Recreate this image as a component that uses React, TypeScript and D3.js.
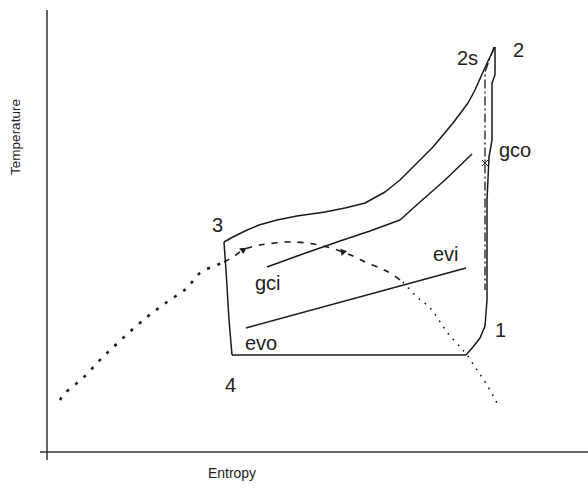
import React from "react";
import * as d3 from "d3";

type P = [number, number];

// entropy (s) and temperature (T) in arbitrary units measured from the origin
const cycleLeft: P[] = [[177, 210], [179, 182], [182, 132], [185, 97]];
const cycleBottom: P[] = [[185, 97], [419, 97]];
const cycleRight: P[] = [
  [419, 97], [426, 105], [433, 114], [438, 126], [440, 152], [440, 252],
  [442, 295], [445, 312], [445, 369], [448, 377], [448, 405],
];
const cycleTop: P[] = [
  [448, 405], [441, 391], [436, 380], [428, 362], [421, 349], [406, 329],
  [386, 305], [366, 285], [353, 272], [338, 260], [318, 249], [298, 244],
  [278, 240], [250, 236], [230, 232], [212, 227], [198, 221], [186, 215],
  [177, 210],
];
const isentropic2s: P[] = [[447, 405], [438, 380], [438, 162]];
const gasCoolerLine: P[] = [
  [220, 185], [253, 197], [293, 211], [323, 221], [353, 232], [373, 250],
  [398, 272], [425, 298],
];
const evaporatorLine: P[] = [[199, 124], [419, 184]];
const domeLeft: P[] = [
  [13, 52], [18, 59], [36, 74], [55, 94], [76, 114], [100, 135], [120, 150],
  [140, 164], [153, 179], [170, 187], [177, 190],
];
const domeTop: P[] = [
  [177, 190], [186, 195], [196, 202], [208, 206], [220, 208], [240, 210],
  [260, 209], [280, 205], [296, 200], [308, 195], [320, 189], [333, 184],
  [343, 179], [356, 170],
];
const domeRight: P[] = [
  [356, 170], [370, 155], [383, 144], [400, 120], [413, 105], [420, 97],
  [430, 82], [440, 67], [450, 49],
];
const arrowPoints: P[] = [[196, 202], [296, 200]];
const arrowAngles: number[] = [-35, -130];

const pointLabels: string[] = ["2s", "2", "gco", "evi", "gci", "evo", "3", "4", "1"];
const pointLabelPos: P[] = [
  [410, 387], [466, 395], [452, 295], [386, 191], [208, 162], [198, 102],
  [165, 220], [178, 60], [448, 115],
];
const gcoMark: P = [438, 289];
const xTitle = "Entropy";
const yTitle = "Temperature";

const W = 588;
const H = 489;

export default function App() {
  const x = d3.scaleLinear().domain([0, 541]).range([47, 588]);
  const y = d3.scaleLinear().domain([0, 442]).range([452, 10]);
  const line = d3.line<P>().x((d) => x(d[0])).y((d) => y(d[1]));
  const curve = d3
    .line<P>()
    .x((d) => x(d[0]))
    .y((d) => y(d[1]))
    .curve(d3.curveCatmullRom.alpha(0.5));
  const ink = "#1a1a1a";
  const font = "'Liberation Sans', Arial, sans-serif";

  return (
    <svg
      width={W}
      height={H}
      style={{ position: "absolute", left: 0, top: 0, background: "#fff" }}
    >
      {/* axes */}
      <line x1={x(0)} x2={x(0)} y1={y(442)} y2={y(-8)} stroke="#333" strokeWidth={1.5} />
      <line x1={x(-7)} x2={x(541)} y1={y(0)} y2={y(0)} stroke="#333" strokeWidth={1.5} />
      <text
        x={232}
        y={y(-26)}
        textAnchor="middle"
        fontFamily={font}
        fontSize={14}
        fill="#222"
      >
        {xTitle}
      </text>
      <text
        transform={`translate(${x(-27)},${y(315)}) rotate(-90)`}
        textAnchor="middle"
        fontFamily={font}
        fontSize={13.5}
        fill="#222"
      >
        {yTitle}
      </text>

      {/* saturation dome */}
      <path d={curve(domeLeft) || ""} fill="none" stroke={ink} strokeWidth={2.6} strokeDasharray="3 8" />
      <path d={curve(domeTop) || ""} fill="none" stroke={ink} strokeWidth={1.6} strokeDasharray="6 7" />
      <path d={curve(domeRight) || ""} fill="none" stroke={ink} strokeWidth={1.6} strokeDasharray="1.6 6" />
      {arrowPoints.map((p, i) => (
        <path
          key={i}
          d={d3.symbol().type(d3.symbolTriangle).size(22)() || ""}
          transform={`translate(${x(p[0])},${y(p[1])}) rotate(${arrowAngles[i] + 90})`}
          fill={ink}
        />
      ))}

      {/* cycle */}
      <path d={line(cycleLeft) || ""} fill="none" stroke={ink} strokeWidth={1.5} />
      <path d={line(cycleBottom) || ""} fill="none" stroke={ink} strokeWidth={1.5} />
      <path d={line(cycleRight) || ""} fill="none" stroke={ink} strokeWidth={1.5} strokeLinejoin="round" />
      <path d={line(cycleTop) || ""} fill="none" stroke={ink} strokeWidth={1.5} strokeLinejoin="round" />
      <path d={line(isentropic2s) || ""} fill="none" stroke={ink} strokeWidth={1.3} strokeDasharray="9 3 2 3" />
      <path d={line(gasCoolerLine) || ""} fill="none" stroke={ink} strokeWidth={1.5} strokeLinejoin="round" />
      <path d={line(evaporatorLine) || ""} fill="none" stroke={ink} strokeWidth={1.5} />
      <path
        d={`M${x(gcoMark[0]) - 3},${y(gcoMark[1]) - 3}L${x(gcoMark[0]) + 3},${y(gcoMark[1]) + 3}M${x(gcoMark[0]) - 3},${y(gcoMark[1]) + 3}L${x(gcoMark[0]) + 3},${y(gcoMark[1]) - 3}`}
        stroke={ink}
        strokeWidth={1}
      />

      {pointLabels.map((t, i) => (
        <text
          key={t}
          x={x(pointLabelPos[i][0])}
          y={y(pointLabelPos[i][1])}
          fontFamily={font}
          fontSize={20}
          fill="#222"
        >
          {t}
        </text>
      ))}
    </svg>
  );
}
